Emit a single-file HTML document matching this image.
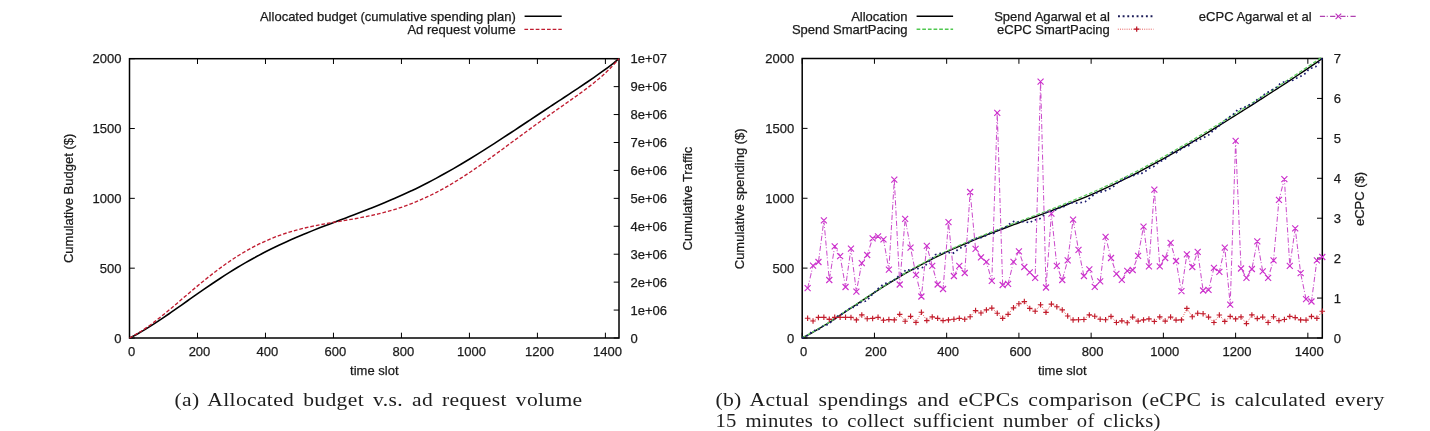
<!DOCTYPE html>
<html><head><meta charset="utf-8"><style>html,body{margin:0;padding:0;background:#fff;width:1430px;height:431px;overflow:hidden}</style></head>
<body>
<svg width="1430" height="431" viewBox="0 0 1430 431" style="display:block;will-change:transform">
<rect width="100%" height="100%" fill="#fff"/>
<g style="font-family:'Liberation Sans',sans-serif;font-size:13px" fill="#1a1a1a" stroke="#1a1a1a" stroke-width="0.25">
<g>
<line x1="129.50" y1="338.0" x2="129.50" y2="332.7" stroke="#000" stroke-width="1"/>
<line x1="129.50" y1="58.7" x2="129.50" y2="64.0" stroke="#000" stroke-width="1"/>
<text x="131.50" y="356" text-anchor="middle">0</text>
<line x1="197.49" y1="338.0" x2="197.49" y2="332.7" stroke="#000" stroke-width="1"/>
<line x1="197.49" y1="58.7" x2="197.49" y2="64.0" stroke="#000" stroke-width="1"/>
<text x="199.49" y="356" text-anchor="middle">200</text>
<line x1="265.47" y1="338.0" x2="265.47" y2="332.7" stroke="#000" stroke-width="1"/>
<line x1="265.47" y1="58.7" x2="265.47" y2="64.0" stroke="#000" stroke-width="1"/>
<text x="267.47" y="356" text-anchor="middle">400</text>
<line x1="333.46" y1="338.0" x2="333.46" y2="332.7" stroke="#000" stroke-width="1"/>
<line x1="333.46" y1="58.7" x2="333.46" y2="64.0" stroke="#000" stroke-width="1"/>
<text x="335.46" y="356" text-anchor="middle">600</text>
<line x1="401.44" y1="338.0" x2="401.44" y2="332.7" stroke="#000" stroke-width="1"/>
<line x1="401.44" y1="58.7" x2="401.44" y2="64.0" stroke="#000" stroke-width="1"/>
<text x="403.44" y="356" text-anchor="middle">800</text>
<line x1="469.43" y1="338.0" x2="469.43" y2="332.7" stroke="#000" stroke-width="1"/>
<line x1="469.43" y1="58.7" x2="469.43" y2="64.0" stroke="#000" stroke-width="1"/>
<text x="471.43" y="356" text-anchor="middle">1000</text>
<line x1="537.42" y1="338.0" x2="537.42" y2="332.7" stroke="#000" stroke-width="1"/>
<line x1="537.42" y1="58.7" x2="537.42" y2="64.0" stroke="#000" stroke-width="1"/>
<text x="539.42" y="356" text-anchor="middle">1200</text>
<line x1="605.40" y1="338.0" x2="605.40" y2="332.7" stroke="#000" stroke-width="1"/>
<line x1="605.40" y1="58.7" x2="605.40" y2="64.0" stroke="#000" stroke-width="1"/>
<text x="607.40" y="356" text-anchor="middle">1400</text>
<line x1="129.5" y1="338.00" x2="134.8" y2="338.00" stroke="#000" stroke-width="1"/>
<text x="121.50" y="342.60" text-anchor="end">0</text>
<line x1="129.5" y1="268.18" x2="134.8" y2="268.18" stroke="#000" stroke-width="1"/>
<text x="121.50" y="272.78" text-anchor="end">500</text>
<line x1="129.5" y1="198.35" x2="134.8" y2="198.35" stroke="#000" stroke-width="1"/>
<text x="121.50" y="202.95" text-anchor="end">1000</text>
<line x1="129.5" y1="128.53" x2="134.8" y2="128.53" stroke="#000" stroke-width="1"/>
<text x="121.50" y="133.12" text-anchor="end">1500</text>
<line x1="129.5" y1="58.70" x2="134.8" y2="58.70" stroke="#000" stroke-width="1"/>
<text x="121.50" y="63.30" text-anchor="end">2000</text>
<line x1="619.0" y1="338.00" x2="613.7" y2="338.00" stroke="#000" stroke-width="1"/>
<text x="630.50" y="342.60">0</text>
<line x1="619.0" y1="310.07" x2="613.7" y2="310.07" stroke="#000" stroke-width="1"/>
<text x="630.50" y="314.67">1e+06</text>
<line x1="619.0" y1="282.14" x2="613.7" y2="282.14" stroke="#000" stroke-width="1"/>
<text x="630.50" y="286.74">2e+06</text>
<line x1="619.0" y1="254.21" x2="613.7" y2="254.21" stroke="#000" stroke-width="1"/>
<text x="630.50" y="258.81">3e+06</text>
<line x1="619.0" y1="226.28" x2="613.7" y2="226.28" stroke="#000" stroke-width="1"/>
<text x="630.50" y="230.88">4e+06</text>
<line x1="619.0" y1="198.35" x2="613.7" y2="198.35" stroke="#000" stroke-width="1"/>
<text x="630.50" y="202.95">5e+06</text>
<line x1="619.0" y1="170.42" x2="613.7" y2="170.42" stroke="#000" stroke-width="1"/>
<text x="630.50" y="175.02">6e+06</text>
<line x1="619.0" y1="142.49" x2="613.7" y2="142.49" stroke="#000" stroke-width="1"/>
<text x="630.50" y="147.09">7e+06</text>
<line x1="619.0" y1="114.56" x2="613.7" y2="114.56" stroke="#000" stroke-width="1"/>
<text x="630.50" y="119.16">8e+06</text>
<line x1="619.0" y1="86.63" x2="613.7" y2="86.63" stroke="#000" stroke-width="1"/>
<text x="630.50" y="91.23">9e+06</text>
<line x1="619.0" y1="58.70" x2="613.7" y2="58.70" stroke="#000" stroke-width="1"/>
<text x="630.50" y="63.30">1e+07</text>
<rect x="129.5" y="58.7" width="489.5" height="279.3" fill="none" stroke="#000" stroke-width="1.5"/>
<text x="374.3" y="374.8" text-anchor="middle">time slot</text>
<text transform="translate(73,198.4) rotate(-90)" text-anchor="middle">Cumulative Budget ($)</text>
<text transform="translate(692,198.6) rotate(-90)" text-anchor="middle">Cumulative Traffic</text>
</g>
<line x1="802.20" y1="338.0" x2="802.20" y2="332.7" stroke="#000" stroke-width="1"/>
<line x1="802.20" y1="58.5" x2="802.20" y2="63.8" stroke="#000" stroke-width="1"/>
<text x="803.60" y="356" text-anchor="middle">0</text>
<line x1="874.44" y1="338.0" x2="874.44" y2="332.7" stroke="#000" stroke-width="1"/>
<line x1="874.44" y1="58.5" x2="874.44" y2="63.8" stroke="#000" stroke-width="1"/>
<text x="875.84" y="356" text-anchor="middle">200</text>
<line x1="946.67" y1="338.0" x2="946.67" y2="332.7" stroke="#000" stroke-width="1"/>
<line x1="946.67" y1="58.5" x2="946.67" y2="63.8" stroke="#000" stroke-width="1"/>
<text x="948.07" y="356" text-anchor="middle">400</text>
<line x1="1018.91" y1="338.0" x2="1018.91" y2="332.7" stroke="#000" stroke-width="1"/>
<line x1="1018.91" y1="58.5" x2="1018.91" y2="63.8" stroke="#000" stroke-width="1"/>
<text x="1020.31" y="356" text-anchor="middle">600</text>
<line x1="1091.14" y1="338.0" x2="1091.14" y2="332.7" stroke="#000" stroke-width="1"/>
<line x1="1091.14" y1="58.5" x2="1091.14" y2="63.8" stroke="#000" stroke-width="1"/>
<text x="1092.54" y="356" text-anchor="middle">800</text>
<line x1="1163.38" y1="338.0" x2="1163.38" y2="332.7" stroke="#000" stroke-width="1"/>
<line x1="1163.38" y1="58.5" x2="1163.38" y2="63.8" stroke="#000" stroke-width="1"/>
<text x="1164.78" y="356" text-anchor="middle">1000</text>
<line x1="1235.62" y1="338.0" x2="1235.62" y2="332.7" stroke="#000" stroke-width="1"/>
<line x1="1235.62" y1="58.5" x2="1235.62" y2="63.8" stroke="#000" stroke-width="1"/>
<text x="1237.02" y="356" text-anchor="middle">1200</text>
<line x1="1307.85" y1="338.0" x2="1307.85" y2="332.7" stroke="#000" stroke-width="1"/>
<line x1="1307.85" y1="58.5" x2="1307.85" y2="63.8" stroke="#000" stroke-width="1"/>
<text x="1309.25" y="356" text-anchor="middle">1400</text>
<line x1="802.2" y1="338.00" x2="807.5" y2="338.00" stroke="#000" stroke-width="1"/>
<text x="794.20" y="342.60" text-anchor="end">0</text>
<line x1="802.2" y1="268.12" x2="807.5" y2="268.12" stroke="#000" stroke-width="1"/>
<text x="794.20" y="272.73" text-anchor="end">500</text>
<line x1="802.2" y1="198.25" x2="807.5" y2="198.25" stroke="#000" stroke-width="1"/>
<text x="794.20" y="202.85" text-anchor="end">1000</text>
<line x1="802.2" y1="128.38" x2="807.5" y2="128.38" stroke="#000" stroke-width="1"/>
<text x="794.20" y="132.97" text-anchor="end">1500</text>
<line x1="802.2" y1="58.50" x2="807.5" y2="58.50" stroke="#000" stroke-width="1"/>
<text x="794.20" y="63.10" text-anchor="end">2000</text>
<line x1="1322.3" y1="338.00" x2="1317.0" y2="338.00" stroke="#000" stroke-width="1"/>
<text x="1333.80" y="342.60">0</text>
<line x1="1322.3" y1="298.07" x2="1317.0" y2="298.07" stroke="#000" stroke-width="1"/>
<text x="1333.80" y="302.67">1</text>
<line x1="1322.3" y1="258.14" x2="1317.0" y2="258.14" stroke="#000" stroke-width="1"/>
<text x="1333.80" y="262.74">2</text>
<line x1="1322.3" y1="218.21" x2="1317.0" y2="218.21" stroke="#000" stroke-width="1"/>
<text x="1333.80" y="222.81">3</text>
<line x1="1322.3" y1="178.29" x2="1317.0" y2="178.29" stroke="#000" stroke-width="1"/>
<text x="1333.80" y="182.89">4</text>
<line x1="1322.3" y1="138.36" x2="1317.0" y2="138.36" stroke="#000" stroke-width="1"/>
<text x="1333.80" y="142.96">5</text>
<line x1="1322.3" y1="98.43" x2="1317.0" y2="98.43" stroke="#000" stroke-width="1"/>
<text x="1333.80" y="103.03">6</text>
<line x1="1322.3" y1="58.50" x2="1317.0" y2="58.50" stroke="#000" stroke-width="1"/>
<text x="1333.80" y="63.10">7</text>
<rect x="802.2" y="58.5" width="520.0999999999999" height="279.5" fill="none" stroke="#000" stroke-width="1.5"/>
<text x="1062.3" y="374.8" text-anchor="middle">time slot</text>
<text transform="translate(744,198.8) rotate(-90)" text-anchor="middle">Cumulative spending ($)</text>
<text transform="translate(1364.3,198.9) rotate(-90)" text-anchor="middle">eCPC ($)</text>
<text x="515.8" y="20.8" text-anchor="end">Allocated budget (cumulative spending plan)</text>
<text x="515.8" y="33.8" text-anchor="end">Ad request volume</text>
<text x="907.5" y="20.8" text-anchor="end">Allocation</text>
<text x="907.5" y="33.8" text-anchor="end">Spend SmartPacing</text>
<text x="1109.8" y="20.8" text-anchor="end">Spend Agarwal et al</text>
<text x="1109.8" y="33.8" text-anchor="end">eCPC SmartPacing</text>
<text x="1311.6" y="20.8" text-anchor="end">eCPC Agarwal et al</text>
</g>
<line x1="524.6" y1="16.3" x2="561.7" y2="16.3" stroke="#000" stroke-width="1.6"/>
<line x1="524.4" y1="29.4" x2="561.8" y2="29.4" stroke="#c01c30" stroke-width="1.35" stroke-dasharray="3.7,1.95"/>
<line x1="916.6" y1="16.3" x2="953.1" y2="16.3" stroke="#000" stroke-width="1.6"/>
<line x1="916.6" y1="29.3" x2="953.1" y2="29.3" stroke="#50c850" stroke-width="1.4" stroke-dasharray="3.7,1.95"/>
<line x1="1118" y1="16.2" x2="1153.5" y2="16.2" stroke="#1c1c58" stroke-width="1.9" stroke-dasharray="1.9,2.75"/>
<line x1="1117.8" y1="29.2" x2="1153.5" y2="29.2" stroke="#e03030" stroke-width="0.8" stroke-dasharray="1,1.2"/>
<path d="M1134,29.2h5.4M1136.7,26.6v5.2" stroke="#b81020" stroke-width="1.2"/>
<line x1="1319.9" y1="16.4" x2="1356.5" y2="16.4" stroke="#b040b0" stroke-width="1.1" stroke-dasharray="5.2,1.6,1,2.4"/>
<path d="M1335.6,13.7l5.6,5.4M1335.6,19.1l5.6,-5.4" stroke="#c030c0" stroke-width="1.15"/>
<path d="M129.50,338.00 C130.88,337.28 135.03,335.21 137.80,333.68 C140.56,332.16 143.33,330.54 146.09,328.86 C148.86,327.19 151.62,325.44 154.39,323.65 C157.16,321.86 159.92,320.01 162.69,318.15 C165.45,316.28 168.22,314.36 170.98,312.44 C173.75,310.52 176.51,308.57 179.28,306.62 C182.05,304.67 184.81,302.71 187.58,300.75 C190.34,298.80 193.11,296.84 195.87,294.91 C198.64,292.97 201.40,291.04 204.17,289.13 C206.94,287.23 209.70,285.33 212.47,283.47 C215.23,281.61 218.00,279.77 220.76,277.97 C223.53,276.16 226.29,274.39 229.06,272.65 C231.82,270.91 234.59,269.20 237.36,267.53 C240.12,265.86 242.89,264.23 245.65,262.63 C248.42,261.03 251.18,259.47 253.95,257.95 C256.71,256.43 259.48,254.95 262.25,253.50 C265.01,252.05 267.78,250.64 270.54,249.27 C273.31,247.89 276.07,246.55 278.84,245.24 C281.60,243.93 284.37,242.66 287.14,241.41 C289.90,240.16 292.67,238.95 295.43,237.75 C298.20,236.56 300.96,235.40 303.73,234.25 C306.49,233.11 309.26,231.99 312.03,230.88 C314.79,229.77 317.56,228.69 320.32,227.61 C323.09,226.53 325.85,225.47 328.62,224.42 C331.38,223.36 334.15,222.31 336.92,221.27 C339.68,220.22 342.45,219.18 345.21,218.14 C347.98,217.09 350.74,216.05 353.51,215.00 C356.27,213.94 359.04,212.89 361.81,211.82 C364.57,210.75 367.34,209.67 370.10,208.58 C372.87,207.49 375.63,206.38 378.40,205.25 C381.16,204.13 383.93,202.98 386.69,201.82 C389.46,200.65 392.23,199.47 394.99,198.25 C397.76,197.04 400.52,195.81 403.29,194.55 C406.05,193.29 408.82,192.00 411.58,190.69 C414.35,189.37 417.12,188.03 419.88,186.66 C422.65,185.29 425.41,183.89 428.18,182.46 C430.94,181.04 433.71,179.58 436.47,178.10 C439.24,176.61 442.01,175.10 444.77,173.56 C447.54,172.02 450.30,170.45 453.07,168.86 C455.83,167.27 458.60,165.65 461.36,164.01 C464.13,162.37 466.90,160.70 469.66,159.01 C472.43,157.33 475.19,155.61 477.96,153.89 C480.72,152.16 483.49,150.41 486.25,148.65 C489.02,146.89 491.79,145.12 494.55,143.33 C497.32,141.54 500.08,139.74 502.85,137.93 C505.61,136.12 508.38,134.30 511.14,132.48 C513.91,130.66 516.68,128.83 519.44,127.00 C522.21,125.17 524.97,123.34 527.74,121.51 C530.50,119.67 533.27,117.84 536.03,116.01 C538.80,114.18 541.56,112.35 544.33,110.52 C547.10,108.69 549.86,106.86 552.63,105.04 C555.39,103.22 558.16,101.40 560.92,99.57 C563.69,97.75 566.45,95.93 569.22,94.10 C571.99,92.27 574.75,90.44 577.52,88.59 C580.28,86.75 583.05,84.90 585.81,83.02 C588.58,81.14 591.34,79.26 594.11,77.33 C596.88,75.40 599.64,73.45 602.41,71.44 C605.17,69.43 607.94,67.40 610.70,65.27 C613.47,63.15 617.62,59.80 619.00,58.70" fill="none" stroke="#000" stroke-width="1.6"/>
<path d="M129.50,338.00 C130.88,337.23 135.03,335.05 137.80,333.37 C140.56,331.69 143.33,329.85 146.09,327.93 C148.86,326.01 151.62,323.96 154.39,321.85 C157.16,319.75 159.92,317.54 162.69,315.31 C165.45,313.08 168.22,310.76 170.98,308.45 C173.75,306.13 176.51,303.76 179.28,301.41 C182.05,299.06 184.81,296.68 187.58,294.33 C190.34,291.98 193.11,289.62 195.87,287.31 C198.64,285.00 201.40,282.70 204.17,280.46 C206.94,278.22 209.70,276.01 212.47,273.87 C215.23,271.72 218.00,269.62 220.76,267.59 C223.53,265.56 226.29,263.59 229.06,261.70 C231.82,259.80 234.59,257.97 237.36,256.22 C240.12,254.47 242.89,252.80 245.65,251.20 C248.42,249.60 251.18,248.08 253.95,246.63 C256.71,245.19 259.48,243.82 262.25,242.53 C265.01,241.24 267.78,240.02 270.54,238.88 C273.31,237.73 276.07,236.67 278.84,235.66 C281.60,234.65 284.37,233.72 287.14,232.84 C289.90,231.96 292.67,231.15 295.43,230.39 C298.20,229.62 300.96,228.92 303.73,228.25 C306.49,227.58 309.26,226.97 312.03,226.38 C314.79,225.79 317.56,225.24 320.32,224.71 C323.09,224.18 325.85,223.69 328.62,223.20 C331.38,222.71 334.15,222.25 336.92,221.78 C339.68,221.31 342.45,220.85 345.21,220.38 C347.98,219.91 350.74,219.44 353.51,218.95 C356.27,218.46 359.04,217.96 361.81,217.43 C364.57,216.90 367.34,216.35 370.10,215.76 C372.87,215.17 375.63,214.55 378.40,213.89 C381.16,213.23 383.93,212.53 386.69,211.78 C389.46,211.03 392.23,210.23 394.99,209.38 C397.76,208.53 400.52,207.63 403.29,206.67 C406.05,205.71 408.82,204.70 411.58,203.62 C414.35,202.54 417.12,201.41 419.88,200.21 C422.65,199.02 425.41,197.76 428.18,196.44 C430.94,195.12 433.71,193.74 436.47,192.31 C439.24,190.87 442.01,189.37 444.77,187.82 C447.54,186.27 450.30,184.66 453.07,183.00 C455.83,181.34 458.60,179.62 461.36,177.86 C464.13,176.11 466.90,174.30 469.66,172.46 C472.43,170.62 475.19,168.73 477.96,166.81 C480.72,164.90 483.49,162.95 486.25,160.98 C489.02,159.01 491.79,157.01 494.55,155.00 C497.32,152.99 500.08,150.96 502.85,148.92 C505.61,146.89 508.38,144.84 511.14,142.80 C513.91,140.76 516.68,138.71 519.44,136.67 C522.21,134.64 524.97,132.60 527.74,130.58 C530.50,128.56 533.27,126.55 536.03,124.56 C538.80,122.56 541.56,120.58 544.33,118.61 C547.10,116.64 549.86,114.69 552.63,112.74 C555.39,110.79 558.16,108.86 560.92,106.92 C563.69,104.99 566.45,103.06 569.22,101.11 C571.99,99.16 574.75,97.22 577.52,95.22 C580.28,93.23 583.05,91.22 585.81,89.13 C588.58,87.05 591.34,84.93 594.11,82.68 C596.88,80.44 599.64,78.14 602.41,75.65 C605.17,73.17 607.94,70.60 610.70,67.77 C613.47,64.95 617.62,60.21 619.00,58.70" fill="none" stroke="#c01c30" stroke-width="1.35" stroke-dasharray="3.7,1.95"/>
<path d="M802.20,338.00 C803.67,337.22 808.08,334.98 811.02,333.35 C813.95,331.72 816.89,329.99 819.83,328.22 C822.77,326.46 825.71,324.61 828.65,322.75 C831.58,320.89 834.52,318.97 837.46,317.04 C840.40,315.12 843.34,313.16 846.28,311.20 C849.21,309.25 852.15,307.27 855.09,305.31 C858.03,303.35 860.97,301.38 863.91,299.43 C866.85,297.49 869.78,295.55 872.72,293.63 C875.66,291.72 878.60,289.82 881.54,287.96 C884.48,286.09 887.41,284.25 890.35,282.44 C893.29,280.63 896.23,278.85 899.17,277.10 C902.11,275.35 905.04,273.64 907.98,271.97 C910.92,270.29 913.86,268.65 916.80,267.04 C919.74,265.44 922.68,263.87 925.61,262.34 C928.55,260.80 931.49,259.31 934.43,257.84 C937.37,256.38 940.31,254.95 943.24,253.56 C946.18,252.16 949.12,250.80 952.06,249.46 C955.00,248.13 957.94,246.83 960.87,245.55 C963.81,244.27 966.75,243.03 969.69,241.80 C972.63,240.57 975.57,239.37 978.51,238.19 C981.44,237.01 984.38,235.85 987.32,234.70 C990.26,233.55 993.20,232.42 996.14,231.30 C999.07,230.18 1002.01,229.08 1004.95,227.98 C1007.89,226.88 1010.83,225.79 1013.77,224.71 C1016.70,223.62 1019.64,222.54 1022.58,221.45 C1025.52,220.37 1028.46,219.29 1031.40,218.20 C1034.34,217.11 1037.27,216.03 1040.21,214.93 C1043.15,213.83 1046.09,212.73 1049.03,211.61 C1051.97,210.50 1054.90,209.37 1057.84,208.23 C1060.78,207.09 1063.72,205.94 1066.66,204.77 C1069.60,203.60 1072.53,202.42 1075.47,201.22 C1078.41,200.01 1081.35,198.79 1084.29,197.55 C1087.23,196.31 1090.16,195.05 1093.10,193.77 C1096.04,192.48 1098.98,191.18 1101.92,189.85 C1104.86,188.52 1107.80,187.17 1110.73,185.80 C1113.67,184.43 1116.61,183.03 1119.55,181.61 C1122.49,180.19 1125.43,178.74 1128.36,177.28 C1131.30,175.81 1134.24,174.32 1137.18,172.80 C1140.12,171.29 1143.06,169.75 1145.99,168.19 C1148.93,166.63 1151.87,165.05 1154.81,163.44 C1157.75,161.84 1160.69,160.22 1163.63,158.57 C1166.56,156.93 1169.50,155.26 1172.44,153.58 C1175.38,151.90 1178.32,150.20 1181.26,148.48 C1184.19,146.76 1187.13,145.03 1190.07,143.28 C1193.01,141.53 1195.95,139.77 1198.89,137.99 C1201.82,136.22 1204.76,134.43 1207.70,132.63 C1210.64,130.83 1213.58,129.02 1216.52,127.20 C1219.46,125.39 1222.39,123.56 1225.33,121.72 C1228.27,119.89 1231.21,118.04 1234.15,116.20 C1237.09,114.35 1240.02,112.49 1242.96,110.63 C1245.90,108.77 1248.84,106.91 1251.78,105.04 C1254.72,103.17 1257.65,101.29 1260.59,99.41 C1263.53,97.53 1266.47,95.65 1269.41,93.76 C1272.35,91.87 1275.29,89.97 1278.22,88.07 C1281.16,86.16 1284.10,84.25 1287.04,82.33 C1289.98,80.41 1292.92,78.48 1295.85,76.53 C1298.79,74.59 1301.73,72.63 1304.67,70.65 C1307.61,68.67 1310.55,66.68 1313.48,64.65 C1316.42,62.63 1320.83,59.53 1322.30,58.50" fill="none" stroke="#000" stroke-width="1.4"/>
<path d="M802.20,337.70 C803.67,336.92 808.08,334.68 811.02,333.05 C813.95,331.42 816.89,329.69 819.83,327.92 C822.77,326.16 825.71,324.31 828.65,322.45 C831.58,320.59 834.52,318.67 837.46,316.74 C840.40,314.82 843.34,312.86 846.28,310.90 C849.21,308.95 852.15,306.97 855.09,305.01 C858.03,303.05 860.97,301.08 863.91,299.13 C866.85,297.19 869.78,295.25 872.72,293.33 C875.66,291.42 878.60,289.52 881.54,287.65 C884.48,285.77 887.41,283.89 890.35,282.06 C893.29,280.23 896.23,278.42 899.17,276.66 C902.11,274.89 905.04,273.15 907.98,271.46 C910.92,269.76 913.86,268.09 916.80,266.47 C919.74,264.84 922.68,263.25 925.61,261.69 C928.55,260.14 931.49,258.62 934.43,257.13 C937.37,255.65 940.31,254.20 943.24,252.78 C946.18,251.36 949.12,249.98 952.06,248.62 C955.00,247.27 957.94,245.94 960.87,244.64 C963.81,243.34 966.75,242.08 969.69,240.83 C972.63,239.58 975.57,238.36 978.51,237.15 C981.44,235.95 984.38,234.76 987.32,233.59 C990.26,232.43 993.20,231.28 996.14,230.13 C999.07,228.99 1002.01,227.87 1004.95,226.74 C1007.89,225.62 1010.83,224.51 1013.77,223.40 C1016.70,222.29 1019.64,221.19 1022.58,220.08 C1025.52,218.98 1028.46,217.88 1031.40,216.77 C1034.34,215.66 1037.27,214.55 1040.21,213.43 C1043.15,212.31 1046.09,211.18 1049.03,210.04 C1051.97,208.91 1054.90,207.76 1057.84,206.60 C1060.78,205.44 1063.72,204.26 1066.66,203.07 C1069.60,201.88 1072.53,200.67 1075.47,199.45 C1078.41,198.23 1081.35,197.00 1084.29,195.75 C1087.23,194.50 1090.16,193.25 1093.10,191.97 C1096.04,190.68 1098.98,189.38 1101.92,188.05 C1104.86,186.72 1107.80,185.37 1110.73,184.00 C1113.67,182.63 1116.61,181.23 1119.55,179.81 C1122.49,178.39 1125.43,176.94 1128.36,175.48 C1131.30,174.01 1134.24,172.52 1137.18,171.00 C1140.12,169.49 1143.06,167.95 1145.99,166.39 C1148.93,164.83 1151.87,163.25 1154.81,161.64 C1157.75,160.04 1160.69,158.42 1163.63,156.77 C1166.56,155.13 1169.50,153.46 1172.44,151.78 C1175.38,150.10 1178.32,148.40 1181.26,146.68 C1184.19,144.96 1187.13,143.23 1190.07,141.48 C1193.01,139.73 1195.95,137.97 1198.89,136.19 C1201.82,134.42 1204.76,132.63 1207.70,130.83 C1210.64,129.03 1213.58,127.22 1216.52,125.40 C1219.46,123.59 1222.39,121.76 1225.33,119.92 C1228.27,118.09 1231.21,116.24 1234.15,114.40 C1237.09,112.55 1240.02,110.69 1242.96,108.83 C1245.90,106.97 1248.84,105.11 1251.78,103.24 C1254.72,101.37 1257.65,99.49 1260.59,97.61 C1263.53,95.73 1266.47,93.85 1269.41,91.96 C1272.35,90.07 1275.29,88.17 1278.22,86.27 C1281.16,84.36 1284.10,82.45 1287.04,80.53 C1289.98,78.61 1292.92,76.68 1295.85,74.73 C1298.79,72.79 1301.73,70.83 1304.67,68.85 C1307.61,66.87 1310.55,64.88 1313.48,62.85 C1316.42,60.83 1320.83,57.73 1322.30,56.70" fill="none" stroke="#60cc60" stroke-width="1.3" stroke-dasharray="3.7,1.95"/>
<path d="M802.20,338.00 805.45,336.27 808.70,334.93 811.95,331.63 815.20,330.29 818.45,329.54 821.70,327.04 824.95,324.89 828.21,324.74 831.46,321.59 834.71,318.78 837.96,315.95 841.21,314.42 844.46,311.94 847.71,310.22 850.96,306.97 854.21,307.40 857.46,304.89 860.71,302.30 863.96,301.61 867.21,300.70 870.46,295.96 873.71,293.37 876.96,289.67 880.22,286.76 883.47,284.39 886.72,282.94 889.97,282.16 893.22,280.70 896.47,278.30 899.72,274.98 902.97,273.13 906.22,269.34 909.47,270.10 912.72,269.30 915.97,268.96 919.22,268.46 922.47,267.58 925.72,265.12 928.97,261.32 932.23,258.51 935.48,254.67 938.73,253.54 941.98,253.39 945.23,252.70 948.48,252.18 951.73,253.81 954.98,252.23 958.23,248.98 961.48,247.55 964.73,246.48 967.98,243.24 971.23,240.48 974.48,239.48 977.73,237.87 980.98,237.68 984.24,236.34 987.49,234.67 990.74,232.90 993.99,233.16 997.24,230.60 1000.49,228.93 1003.74,228.31 1006.99,226.29 1010.24,223.41 1013.49,221.53 1016.74,222.34 1019.99,221.90 1023.24,221.68 1026.49,221.94 1029.74,223.00 1032.99,220.36 1036.24,219.67 1039.50,218.98 1042.75,216.40 1046.00,212.42 1049.25,211.92 1052.50,211.15 1055.75,209.64 1059.00,207.76 1062.25,207.82 1065.50,205.49 1068.75,203.20 1072.00,202.63 1075.25,203.37 1078.50,202.76 1081.75,202.36 1085.00,201.81 1088.26,199.33 1091.51,196.58 1094.76,194.03 1098.01,192.09 1101.26,191.96 1104.51,191.23 1107.76,189.51 1111.01,188.17 1114.26,185.96 1117.51,182.82 1120.76,180.85 1124.01,178.34 1127.26,177.54 1130.51,176.16 1133.76,175.40 1137.01,173.53 1140.26,174.51 1143.52,172.01 1146.77,170.53 1150.02,167.84 1153.27,166.84 1156.52,164.10 1159.77,161.65 1163.02,160.24 1166.27,158.18 1169.52,155.10 1172.77,152.22 1176.02,152.86 1179.27,150.49 1182.52,147.86 1185.77,146.85 1189.02,145.58 1192.28,142.11 1195.53,141.15 1198.78,140.31 1202.03,138.11 1205.28,136.83 1208.53,135.14 1211.78,131.97 1215.03,129.25 1218.28,126.50 1221.53,123.85 1224.78,120.68 1228.03,117.62 1231.28,115.96 1234.53,113.24 1237.78,109.37 1241.03,108.54 1244.29,107.42 1247.54,105.70 1250.79,104.31 1254.04,102.94 1257.29,99.51 1260.54,97.60 1263.79,94.87 1267.04,92.54 1270.29,91.15 1273.54,88.81 1276.79,87.16 1280.04,83.77 1283.29,82.19 1286.54,80.89 1289.79,80.97 1293.04,80.26 1296.30,78.31 1299.55,76.95 1302.80,75.21 1306.05,72.93 1309.30,68.50 1312.55,67.93 1315.80,66.62 1319.05,62.08 1322.30,58.50" fill="none" stroke="#1c1c70" stroke-width="1.7" stroke-dasharray="1.7,2.95"/>
<polyline points="807.62,288.20 813.04,265.70 818.45,262.00 823.87,220.40 829.29,280.00 834.71,246.40 840.12,256.10 845.54,287.00 850.96,248.70 856.38,291.60 861.79,263.10 867.21,255.00 872.63,238.30 878.05,236.40 883.47,239.40 888.88,269.60 894.30,179.60 899.72,284.50 905.14,218.80 910.55,247.70 915.97,274.80 921.39,296.50 926.81,245.90 932.23,265.80 937.64,284.50 943.06,289.00 948.48,222.10 953.90,276.00 959.31,265.80 964.73,273.00 970.15,192.00 975.57,248.90 980.98,257.30 986.40,261.90 991.82,280.80 997.24,112.90 1002.66,285.00 1008.07,283.90 1013.49,261.90 1018.91,251.30 1024.33,267.00 1029.74,272.40 1035.16,277.80 1040.58,81.60 1046.00,287.50 1051.41,213.70 1056.83,265.80 1062.25,280.00 1067.67,260.40 1073.09,219.70 1078.50,249.80 1083.92,276.00 1089.34,269.40 1094.76,286.90 1100.17,281.40 1105.59,236.90 1111.01,258.00 1116.43,273.90 1121.84,279.90 1127.26,270.90 1132.68,270.00 1138.10,255.80 1143.52,226.60 1148.93,266.40 1154.35,189.60 1159.77,266.40 1165.19,258.00 1170.60,242.90 1176.02,261.00 1181.44,291.10 1186.86,254.30 1192.28,267.00 1197.69,251.90 1203.11,290.50 1208.53,289.90 1213.95,267.90 1219.36,271.80 1224.78,247.60 1230.20,304.70 1235.62,140.90 1241.03,268.50 1246.45,277.80 1251.87,269.00 1257.29,241.40 1262.71,271.30 1268.12,277.80 1273.54,260.30 1278.96,199.90 1284.38,179.10 1289.79,265.80 1295.21,228.40 1300.63,273.20 1306.05,299.20 1311.46,301.50 1316.88,260.30 1322.30,257.00" fill="none" stroke="#cc50cc" stroke-width="1.05" stroke-dasharray="5.2,1.6,1,2.4"/>
<path d="M804.62,285.20l6,6M804.62,291.20l6,-6M810.04,262.70l6,6M810.04,268.70l6,-6M815.45,259.00l6,6M815.45,265.00l6,-6M820.87,217.40l6,6M820.87,223.40l6,-6M826.29,277.00l6,6M826.29,283.00l6,-6M831.71,243.40l6,6M831.71,249.40l6,-6M837.12,253.10l6,6M837.12,259.10l6,-6M842.54,284.00l6,6M842.54,290.00l6,-6M847.96,245.70l6,6M847.96,251.70l6,-6M853.38,288.60l6,6M853.38,294.60l6,-6M858.79,260.10l6,6M858.79,266.10l6,-6M864.21,252.00l6,6M864.21,258.00l6,-6M869.63,235.30l6,6M869.63,241.30l6,-6M875.05,233.40l6,6M875.05,239.40l6,-6M880.47,236.40l6,6M880.47,242.40l6,-6M885.88,266.60l6,6M885.88,272.60l6,-6M891.30,176.60l6,6M891.30,182.60l6,-6M896.72,281.50l6,6M896.72,287.50l6,-6M902.14,215.80l6,6M902.14,221.80l6,-6M907.55,244.70l6,6M907.55,250.70l6,-6M912.97,271.80l6,6M912.97,277.80l6,-6M918.39,293.50l6,6M918.39,299.50l6,-6M923.81,242.90l6,6M923.81,248.90l6,-6M929.23,262.80l6,6M929.23,268.80l6,-6M934.64,281.50l6,6M934.64,287.50l6,-6M940.06,286.00l6,6M940.06,292.00l6,-6M945.48,219.10l6,6M945.48,225.10l6,-6M950.90,273.00l6,6M950.90,279.00l6,-6M956.31,262.80l6,6M956.31,268.80l6,-6M961.73,270.00l6,6M961.73,276.00l6,-6M967.15,189.00l6,6M967.15,195.00l6,-6M972.57,245.90l6,6M972.57,251.90l6,-6M977.98,254.30l6,6M977.98,260.30l6,-6M983.40,258.90l6,6M983.40,264.90l6,-6M988.82,277.80l6,6M988.82,283.80l6,-6M994.24,109.90l6,6M994.24,115.90l6,-6M999.66,282.00l6,6M999.66,288.00l6,-6M1005.07,280.90l6,6M1005.07,286.90l6,-6M1010.49,258.90l6,6M1010.49,264.90l6,-6M1015.91,248.30l6,6M1015.91,254.30l6,-6M1021.33,264.00l6,6M1021.33,270.00l6,-6M1026.74,269.40l6,6M1026.74,275.40l6,-6M1032.16,274.80l6,6M1032.16,280.80l6,-6M1037.58,78.60l6,6M1037.58,84.60l6,-6M1043.00,284.50l6,6M1043.00,290.50l6,-6M1048.41,210.70l6,6M1048.41,216.70l6,-6M1053.83,262.80l6,6M1053.83,268.80l6,-6M1059.25,277.00l6,6M1059.25,283.00l6,-6M1064.67,257.40l6,6M1064.67,263.40l6,-6M1070.09,216.70l6,6M1070.09,222.70l6,-6M1075.50,246.80l6,6M1075.50,252.80l6,-6M1080.92,273.00l6,6M1080.92,279.00l6,-6M1086.34,266.40l6,6M1086.34,272.40l6,-6M1091.76,283.90l6,6M1091.76,289.90l6,-6M1097.17,278.40l6,6M1097.17,284.40l6,-6M1102.59,233.90l6,6M1102.59,239.90l6,-6M1108.01,255.00l6,6M1108.01,261.00l6,-6M1113.43,270.90l6,6M1113.43,276.90l6,-6M1118.84,276.90l6,6M1118.84,282.90l6,-6M1124.26,267.90l6,6M1124.26,273.90l6,-6M1129.68,267.00l6,6M1129.68,273.00l6,-6M1135.10,252.80l6,6M1135.10,258.80l6,-6M1140.52,223.60l6,6M1140.52,229.60l6,-6M1145.93,263.40l6,6M1145.93,269.40l6,-6M1151.35,186.60l6,6M1151.35,192.60l6,-6M1156.77,263.40l6,6M1156.77,269.40l6,-6M1162.19,255.00l6,6M1162.19,261.00l6,-6M1167.60,239.90l6,6M1167.60,245.90l6,-6M1173.02,258.00l6,6M1173.02,264.00l6,-6M1178.44,288.10l6,6M1178.44,294.10l6,-6M1183.86,251.30l6,6M1183.86,257.30l6,-6M1189.28,264.00l6,6M1189.28,270.00l6,-6M1194.69,248.90l6,6M1194.69,254.90l6,-6M1200.11,287.50l6,6M1200.11,293.50l6,-6M1205.53,286.90l6,6M1205.53,292.90l6,-6M1210.95,264.90l6,6M1210.95,270.90l6,-6M1216.36,268.80l6,6M1216.36,274.80l6,-6M1221.78,244.60l6,6M1221.78,250.60l6,-6M1227.20,301.70l6,6M1227.20,307.70l6,-6M1232.62,137.90l6,6M1232.62,143.90l6,-6M1238.03,265.50l6,6M1238.03,271.50l6,-6M1243.45,274.80l6,6M1243.45,280.80l6,-6M1248.87,266.00l6,6M1248.87,272.00l6,-6M1254.29,238.40l6,6M1254.29,244.40l6,-6M1259.71,268.30l6,6M1259.71,274.30l6,-6M1265.12,274.80l6,6M1265.12,280.80l6,-6M1270.54,257.30l6,6M1270.54,263.30l6,-6M1275.96,196.90l6,6M1275.96,202.90l6,-6M1281.38,176.10l6,6M1281.38,182.10l6,-6M1286.79,262.80l6,6M1286.79,268.80l6,-6M1292.21,225.40l6,6M1292.21,231.40l6,-6M1297.63,270.20l6,6M1297.63,276.20l6,-6M1303.05,296.20l6,6M1303.05,302.20l6,-6M1308.46,298.50l6,6M1308.46,304.50l6,-6M1313.88,257.30l6,6M1313.88,263.30l6,-6M1319.30,254.00l6,6M1319.30,260.00l6,-6" stroke="#cc30cc" stroke-width="1.15" fill="none"/>
<polyline points="807.62,318.20 813.04,321.00 818.45,317.40 823.87,317.30 829.29,319.30 834.71,317.30 840.12,317.30 845.54,317.30 850.96,317.40 856.38,319.90 861.79,314.90 867.21,318.70 872.63,318.40 878.05,317.30 883.47,320.20 888.88,319.60 894.30,319.90 899.72,314.30 905.14,321.20 910.55,316.30 915.97,322.40 921.39,312.20 926.81,320.60 932.23,316.90 937.64,318.30 943.06,320.60 948.48,319.90 953.90,319.20 959.31,318.30 964.73,319.20 970.15,316.70 975.57,310.60 980.98,313.00 986.40,309.90 991.82,308.10 997.24,313.20 1002.66,318.30 1008.07,314.30 1013.49,307.80 1018.91,303.70 1024.33,301.60 1029.74,308.40 1035.16,311.20 1040.58,304.70 1046.00,312.30 1051.41,304.10 1056.83,306.70 1062.25,309.90 1067.67,316.00 1073.09,319.90 1078.50,319.70 1083.92,319.50 1089.34,314.90 1094.76,316.20 1100.17,319.20 1105.59,319.70 1111.01,316.40 1116.43,322.50 1121.84,320.80 1127.26,322.70 1132.68,317.10 1138.10,321.10 1143.52,319.90 1148.93,318.90 1154.35,321.50 1159.77,316.90 1165.19,321.10 1170.60,317.10 1176.02,320.10 1181.44,319.90 1186.86,308.40 1192.28,316.70 1197.69,313.20 1203.11,313.70 1208.53,317.10 1213.95,322.50 1219.36,315.00 1224.78,321.40 1230.20,316.40 1235.62,318.90 1241.03,316.90 1246.45,323.60 1251.87,314.90 1257.29,318.60 1262.71,317.10 1268.12,322.50 1273.54,316.70 1278.96,320.60 1284.38,319.50 1289.79,316.40 1295.21,317.60 1300.63,319.90 1306.05,320.10 1311.46,316.40 1316.88,318.30 1322.30,311.20" fill="none" stroke="#e03030" stroke-width="0.8" stroke-dasharray="1,1.2"/>
<path d="M804.87,318.20h5.5M807.62,315.45v5.5M810.29,321.00h5.5M813.04,318.25v5.5M815.70,317.40h5.5M818.45,314.65v5.5M821.12,317.30h5.5M823.87,314.55v5.5M826.54,319.30h5.5M829.29,316.55v5.5M831.96,317.30h5.5M834.71,314.55v5.5M837.37,317.30h5.5M840.12,314.55v5.5M842.79,317.30h5.5M845.54,314.55v5.5M848.21,317.40h5.5M850.96,314.65v5.5M853.63,319.90h5.5M856.38,317.15v5.5M859.04,314.90h5.5M861.79,312.15v5.5M864.46,318.70h5.5M867.21,315.95v5.5M869.88,318.40h5.5M872.63,315.65v5.5M875.30,317.30h5.5M878.05,314.55v5.5M880.72,320.20h5.5M883.47,317.45v5.5M886.13,319.60h5.5M888.88,316.85v5.5M891.55,319.90h5.5M894.30,317.15v5.5M896.97,314.30h5.5M899.72,311.55v5.5M902.39,321.20h5.5M905.14,318.45v5.5M907.80,316.30h5.5M910.55,313.55v5.5M913.22,322.40h5.5M915.97,319.65v5.5M918.64,312.20h5.5M921.39,309.45v5.5M924.06,320.60h5.5M926.81,317.85v5.5M929.48,316.90h5.5M932.23,314.15v5.5M934.89,318.30h5.5M937.64,315.55v5.5M940.31,320.60h5.5M943.06,317.85v5.5M945.73,319.90h5.5M948.48,317.15v5.5M951.15,319.20h5.5M953.90,316.45v5.5M956.56,318.30h5.5M959.31,315.55v5.5M961.98,319.20h5.5M964.73,316.45v5.5M967.40,316.70h5.5M970.15,313.95v5.5M972.82,310.60h5.5M975.57,307.85v5.5M978.23,313.00h5.5M980.98,310.25v5.5M983.65,309.90h5.5M986.40,307.15v5.5M989.07,308.10h5.5M991.82,305.35v5.5M994.49,313.20h5.5M997.24,310.45v5.5M999.91,318.30h5.5M1002.66,315.55v5.5M1005.32,314.30h5.5M1008.07,311.55v5.5M1010.74,307.80h5.5M1013.49,305.05v5.5M1016.16,303.70h5.5M1018.91,300.95v5.5M1021.58,301.60h5.5M1024.33,298.85v5.5M1026.99,308.40h5.5M1029.74,305.65v5.5M1032.41,311.20h5.5M1035.16,308.45v5.5M1037.83,304.70h5.5M1040.58,301.95v5.5M1043.25,312.30h5.5M1046.00,309.55v5.5M1048.66,304.10h5.5M1051.41,301.35v5.5M1054.08,306.70h5.5M1056.83,303.95v5.5M1059.50,309.90h5.5M1062.25,307.15v5.5M1064.92,316.00h5.5M1067.67,313.25v5.5M1070.34,319.90h5.5M1073.09,317.15v5.5M1075.75,319.70h5.5M1078.50,316.95v5.5M1081.17,319.50h5.5M1083.92,316.75v5.5M1086.59,314.90h5.5M1089.34,312.15v5.5M1092.01,316.20h5.5M1094.76,313.45v5.5M1097.42,319.20h5.5M1100.17,316.45v5.5M1102.84,319.70h5.5M1105.59,316.95v5.5M1108.26,316.40h5.5M1111.01,313.65v5.5M1113.68,322.50h5.5M1116.43,319.75v5.5M1119.09,320.80h5.5M1121.84,318.05v5.5M1124.51,322.70h5.5M1127.26,319.95v5.5M1129.93,317.10h5.5M1132.68,314.35v5.5M1135.35,321.10h5.5M1138.10,318.35v5.5M1140.77,319.90h5.5M1143.52,317.15v5.5M1146.18,318.90h5.5M1148.93,316.15v5.5M1151.60,321.50h5.5M1154.35,318.75v5.5M1157.02,316.90h5.5M1159.77,314.15v5.5M1162.44,321.10h5.5M1165.19,318.35v5.5M1167.85,317.10h5.5M1170.60,314.35v5.5M1173.27,320.10h5.5M1176.02,317.35v5.5M1178.69,319.90h5.5M1181.44,317.15v5.5M1184.11,308.40h5.5M1186.86,305.65v5.5M1189.53,316.70h5.5M1192.28,313.95v5.5M1194.94,313.20h5.5M1197.69,310.45v5.5M1200.36,313.70h5.5M1203.11,310.95v5.5M1205.78,317.10h5.5M1208.53,314.35v5.5M1211.20,322.50h5.5M1213.95,319.75v5.5M1216.61,315.00h5.5M1219.36,312.25v5.5M1222.03,321.40h5.5M1224.78,318.65v5.5M1227.45,316.40h5.5M1230.20,313.65v5.5M1232.87,318.90h5.5M1235.62,316.15v5.5M1238.28,316.90h5.5M1241.03,314.15v5.5M1243.70,323.60h5.5M1246.45,320.85v5.5M1249.12,314.90h5.5M1251.87,312.15v5.5M1254.54,318.60h5.5M1257.29,315.85v5.5M1259.96,317.10h5.5M1262.71,314.35v5.5M1265.37,322.50h5.5M1268.12,319.75v5.5M1270.79,316.70h5.5M1273.54,313.95v5.5M1276.21,320.60h5.5M1278.96,317.85v5.5M1281.63,319.50h5.5M1284.38,316.75v5.5M1287.04,316.40h5.5M1289.79,313.65v5.5M1292.46,317.60h5.5M1295.21,314.85v5.5M1297.88,319.90h5.5M1300.63,317.15v5.5M1303.30,320.10h5.5M1306.05,317.35v5.5M1308.71,316.40h5.5M1311.46,313.65v5.5M1314.13,318.30h5.5M1316.88,315.55v5.5M1319.55,311.20h5.5M1322.30,308.45v5.5" stroke="#c21c2c" stroke-width="1.15" fill="none"/>
<g style="font-family:'Liberation Serif',serif;font-size:19.5px;letter-spacing:0.3px;word-spacing:3px" fill="#1e1e1e">
<text x="174.5" y="405.9" textLength="408" lengthAdjust="spacingAndGlyphs">(a) Allocated budget v.s. ad request volume</text>
<text x="715.4" y="405.7" textLength="669.3" lengthAdjust="spacingAndGlyphs">(b) Actual spendings and eCPCs comparison (eCPC is calculated every</text>
<text x="715.4" y="426.5" textLength="445.4" lengthAdjust="spacingAndGlyphs">15 minutes to collect sufficient number of clicks)</text>
</g>
</svg>
</body></html>
